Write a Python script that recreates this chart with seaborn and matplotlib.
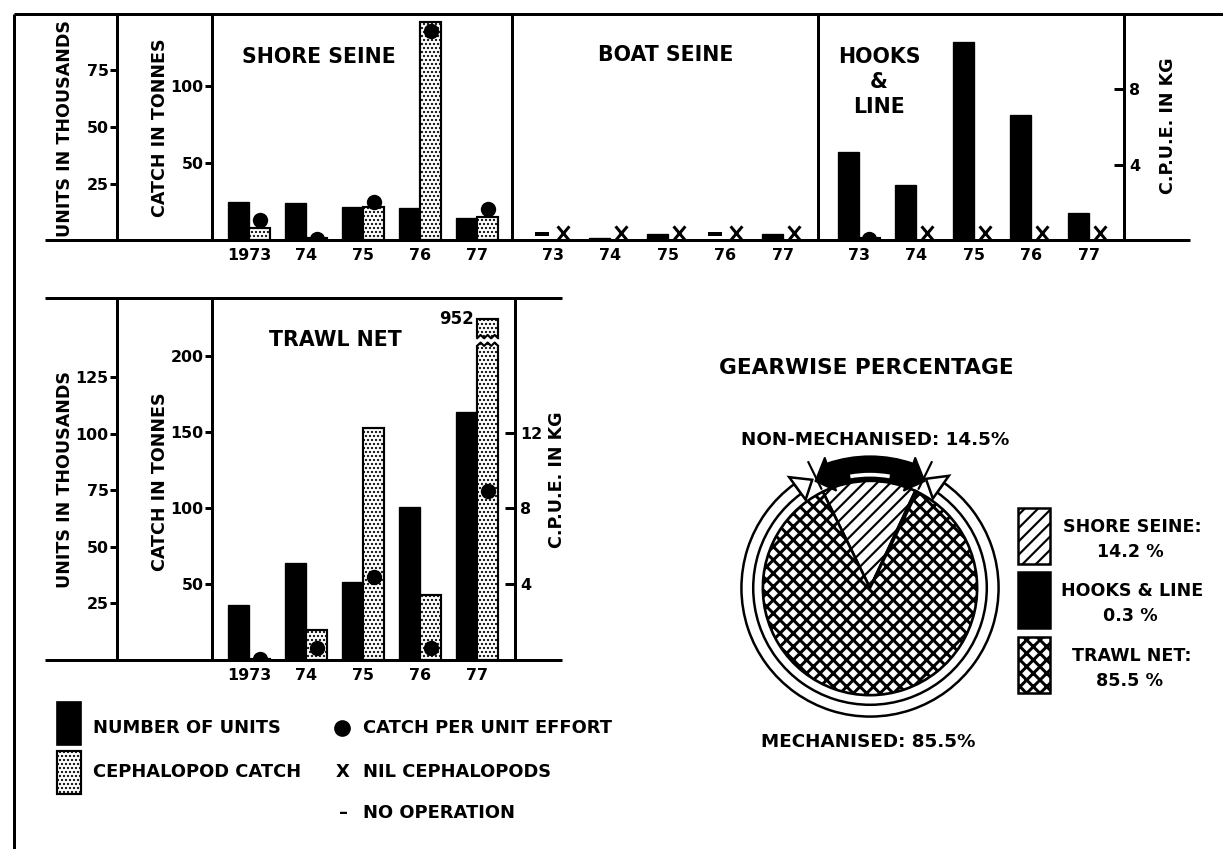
import numpy as np
import pandas as pd
import matplotlib
matplotlib.use("Agg")
import matplotlib.pyplot as plt
import seaborn as sns
from matplotlib.patches import Rectangle, Wedge, Polygon
from matplotlib.path import Path

# ---------------- data ----------------
years_long = ["1973", "74", "75", "76", "77"]
years_short = ["73", "74", "75", "76", "77"]

# units in thousands, catch in tonnes, CPUE in kg
shore_units = [16.8, 16.4, 14.6, 14.2, 9.7]
shore_catch = [7.8, 1.0, 21.4, 141.6, 15.0]
shore_cpue = [1.06, 0.05, 2.0, 11.1, 1.65]

boat_units = [np.nan, 0.9, 2.6, np.nan, 2.6]          # NaN = no operation
boat_catch = [np.nan, np.nan, np.nan, np.nan, np.nan]  # NaN = nil cephalopods
boat_cpue = [np.nan, np.nan, np.nan, np.nan, np.nan]

hooks_units = [38.9, 24.3, 87.6, 55.3, 12.0]
hooks_catch = [1.2, np.nan, np.nan, np.nan, np.nan]
hooks_cpue = [0.05, np.nan, np.nan, np.nan, np.nan]

trawl_units = [24.3, 42.9, 34.5, 67.7, 109.7]
trawl_catch = [0.5, 19.7, 152.6, 42.8, 952.0]
trawl_cpue = [0.05, 0.63, 4.4, 0.63, 8.9]

gear_names = ["SHORE SEINE", "HOOKS & LINE", "TRAWL NET"]
gear_pct = [14.2, 0.3, 85.5]
non_mech_pct = 14.5
mech_pct = 85.5

# ---------------- style ----------------
W, H, DPI = 1223, 849, 120
sns.set_style("white")
plt.rcParams.update({
    "font.family": ["DejaVu Sans"],
    "font.weight": "bold",
    "axes.edgecolor": "black",
    "text.color": "black",
    "xtick.color": "black",
    "ytick.color": "black",
    "axes.labelcolor": "black",
    "hatch.linewidth": 1.2,
    "hatch.color": "black",
})
LW = 1.8
TICK_FS = 9.5
TITLE_FS = 12.3
LAB_FS = 10.5
LEG_FS = 10.7
BAR_W = 0.37
STIPPLE = "....."
DIAG = "///"
CROSS = "xxx"
CAP = 224          # axis break for the trawl-net 1977 catch
BREAK_LO, BREAK_HI = 206.5, 211.5

X_MARK = Path([(-0.5, 0), (0.5, 1.2), (-0.5, 1.2), (0.5, 0)],
              [Path.MOVETO, Path.LINETO, Path.MOVETO, Path.LINETO])
DASH_MARK = Path([(-0.5, 0.45), (0.5, 0.45)], [Path.MOVETO, Path.LINETO])


def hlw(p, lw):
    if hasattr(p, "set_hatch_linewidth"):
        p.set_hatch_linewidth(lw)


def rect(x0, y0, w, h):
    return [x0 / W, 1 - (y0 + h) / H, w / W, h / H]


fig = plt.figure(figsize=(W / DPI, H / DPI), dpi=DPI)
fig.patch.set_facecolor("white")


def panel(x0, y0, w, h, lims, xlim):
    ax_u = fig.add_axes(rect(x0, y0, w, h))
    ax_c = ax_u.twinx()
    ax_p = ax_u.twinx()
    for ax, lim in zip((ax_u, ax_c, ax_p), lims):
        ax.set_ylim(0, lim)
        ax.set_facecolor("none")
        for sp in ax.spines.values():
            sp.set_visible(False)
            sp.set_linewidth(LW)
            sp.set_color("black")
        ax.tick_params(axis="y", which="both", left=False, right=False,
                       labelleft=False, labelright=False)
    ax_u.set_xlim(*xlim)
    return ax_u, ax_c, ax_p


def draw_series(axs, units, catch, cpue, labels, lims, xlim, cap=None):
    ax_u, ax_c, ax_p = axs
    idx = np.arange(len(units))
    off = BAR_W / 2
    u = np.asarray(units, float)
    c = np.asarray(catch, float)
    p = np.asarray(cpue, float)
    if np.isfinite(u).any():
        sns.barplot(x=idx - off, y=u, native_scale=True, width=BAR_W,
                    color="black", saturation=1, edgecolor="black",
                    linewidth=0.8, errorbar=None, ax=ax_u)
    disp = c if cap is None else np.minimum(c, cap)
    if np.isfinite(c).any():
        sns.barplot(x=idx + off, y=disp, native_scale=True, width=BAR_W,
                    color="white", saturation=1, edgecolor="black",
                    linewidth=1.3, hatch=STIPPLE, errorbar=None, ax=ax_c)
        for patch in ax_c.patches:
            hlw(patch, 0.9)
    if np.isfinite(p).any():
        sns.scatterplot(x=idx + off, y=p, color="black", s=85, linewidth=0,
                        legend=False, zorder=5, ax=ax_p)
    nil = ~np.isfinite(c)
    if nil.any():
        ax_c.plot(idx[nil] + off, np.zeros(nil.sum()), linestyle="none",
                  marker=X_MARK, markersize=17, markeredgewidth=1.8,
                  color="black", markerfacecolor="none", clip_on=False, zorder=6)
    noop = ~np.isfinite(u)
    if noop.any():
        ax_u.plot(idx[noop] - off, np.zeros(noop.sum()), linestyle="none",
                  marker=DASH_MARK, markersize=8, markeredgewidth=2.4,
                  color="black", markerfacecolor="none", clip_on=False, zorder=6)
    if cap is not None:
        for k in np.where(c > cap)[0]:
            xc = idx[k] + off
            n = 3
            xs = np.linspace(xc - BAR_W / 2, xc + BAR_W / 2, 2 * n + 1)
            amp = np.where(np.arange(2 * n + 1) % 2 == 0, 0.0, 2.2)
            lower = BREAK_LO + amp
            upper = BREAK_HI + amp
            xs_w = xs.copy()
            xs_w[0] -= 0.03
            xs_w[-1] += 0.03
            poly = np.vstack([np.column_stack([xs_w, lower]),
                              np.column_stack([xs_w[::-1], upper[::-1]])])
            ax_c.add_patch(Polygon(poly, closed=True, fc="white", ec="none", zorder=3))
            ax_c.plot(xs, lower, color="black", lw=1.3, zorder=4)
            ax_c.plot(xs, upper, color="black", lw=1.3, zorder=4)
            ax_c.text(xc - BAR_W / 2 - 0.06, cap, f"{c[k]:.0f}", ha="right",
                      va="center", fontsize=10, fontweight="bold")
    for ax, lim in zip(axs, lims):
        ax.set_ylim(0, lim)
        ax.set_xlabel("")
        ax.set_ylabel("")
    ax_c.xaxis.set_visible(False)
    ax_p.xaxis.set_visible(False)
    ax_u.set_xlim(*xlim)
    ax_u.set_xticks(idx, labels=labels)
    ax_u.tick_params(axis="x", bottom=True, labelbottom=True, length=0,
                     pad=5, labelsize=TICK_FS)


def y_left(ax, pos_frac, ticks):
    ax.spines["left"].set_visible(True)
    ax.spines["left"].set_position(("axes", pos_frac))
    ax.set_yticks(ticks, labels=[str(t) for t in ticks])
    ax.tick_params(axis="y", left=True, labelleft=True, right=False,
                   labelright=False, direction="out", length=4, width=LW,
                   pad=1, labelsize=TICK_FS)


def y_right(ax, ticks):
    ax.spines["right"].set_visible(True)
    ax.set_yticks(ticks, labels=[str(t) for t in ticks])
    ax.tick_params(axis="y", right=True, labelright=True, left=False,
                   labelleft=False, direction="in", length=6, width=LW,
                   pad=3, labelsize=TICK_FS)


TOP_LIMS = (100, 147, 12)
TRAWL_LIMS = (160, 238, 19.1)

# ---- top row ----
ax_shore = panel(212, 14, 300, 226, TOP_LIMS, (-0.65, 4.61))
draw_series(ax_shore, shore_units, shore_catch, shore_cpue, years_long,
            TOP_LIMS, (-0.65, 4.61))
y_left(ax_shore[0], (117 - 212) / 300, [25, 50, 75])
y_left(ax_shore[1], 0, [50, 100])

ax_boat = panel(512, 14, 306, 226, TOP_LIMS, (-0.71, 4.61))
draw_series(ax_boat, boat_units, boat_catch, boat_cpue, years_short,
            TOP_LIMS, (-0.71, 4.61))
ax_boat[0].spines["left"].set_visible(True)

ax_hooks = panel(818, 14, 306, 226, TOP_LIMS, (-0.71, 4.61))
draw_series(ax_hooks, hooks_units, hooks_catch, hooks_cpue, years_short,
            TOP_LIMS, (-0.71, 4.61))
ax_hooks[0].spines["left"].set_visible(True)
y_right(ax_hooks[2], [4, 8])

# ---- trawl net ----
ax_trawl = panel(212, 298, 303, 362, TRAWL_LIMS, (-0.65, 4.665))
draw_series(ax_trawl, trawl_units, trawl_catch, trawl_cpue, years_long,
            TRAWL_LIMS, (-0.65, 4.665), cap=CAP)
y_left(ax_trawl[0], (117 - 212) / 303, [25, 50, 75, 100, 125])
y_left(ax_trawl[1], 0, [50, 100, 150, 200])
y_right(ax_trawl[2], [4, 8, 12])

# ---- pie ----
axp = fig.add_axes(rect(720, 438, 300, 300))
start = 90 + 1.8 * non_mech_pct
end = start - 3.6 * non_mech_pct
wedges, _ = axp.pie(gear_pct, startangle=90 + 1.8 * (gear_pct[0] + gear_pct[1]),
                    counterclock=False, colors=["white", "black", "white"],
                    hatch=[DIAG, "", CROSS], radius=1.0,
                    wedgeprops=dict(edgecolor="black", linewidth=1.6))
hlw(wedges[0], 1.3)
hlw(wedges[2], 1.8)


def pol(th, r):
    t = np.deg2rad(th)
    return (r * np.cos(t), r * np.sin(t))


ra, rb = start + 10, end - 9
axp.add_patch(Wedge((0, 0), 1.20, ra, rb + 360, width=0.11, fc="white",
                    ec="black", lw=1.5, zorder=2))
axp.add_patch(Polygon([pol(ra, 1.02), pol(ra, 1.28), pol(ra - 8, 1.145)],
                      closed=True, fc="white", ec="black", lw=1.5, zorder=3))
axp.add_patch(Polygon([pol(rb, 1.02), pol(rb, 1.28), pol(rb + 8, 1.145)],
                      closed=True, fc="white", ec="black", lw=1.5, zorder=3))
# black double arrow for the non-mechanised share
axp.add_patch(Wedge((0, 0), 1.23, end + 7, start - 7, width=0.23, fc="black",
                    ec="black", lw=1, zorder=3))
axp.add_patch(Polygon([pol(start - 7, 0.96), pol(start - 7, 1.29), pol(start + 1, 1.12)],
                      closed=True, fc="black", ec="black", lw=1, zorder=3))
axp.add_patch(Polygon([pol(end + 7, 0.96), pol(end + 7, 1.29), pol(end - 1, 1.12)],
                      closed=True, fc="black", ec="black", lw=1, zorder=3))
axp.add_patch(Wedge((0, 0), 1.075, 80, 100, width=0.035, fc="white", ec="none", zorder=4))
for th in (start, end):
    p0, p1 = pol(th, 1.03), pol(th, 1.31)
    axp.plot([p0[0], p1[0]], [p0[1], p1[1]], color="black", lw=1.3, zorder=4)
axp.set_xlim(-1.4, 1.4)
axp.set_ylim(-1.4, 1.4)
axp.set_aspect("equal")
axp.axis("off")

# ---- overlay for frame lines, titles, legends ----
ov = fig.add_axes([0, 0, 1, 1])
ov.set_xlim(0, W)
ov.set_ylim(H, 0)
ov.axis("off")


def hline(x0, x1, y):
    ov.plot([x0, x1], [y, y], color="black", lw=LW, solid_capstyle="butt")


def vline(x, y0, y1):
    ov.plot([x, x], [y0, y1], color="black", lw=LW, solid_capstyle="butt")


hline(14, 1223, 14)
vline(14, 14, 849)
hline(45, 1190, 240)
hline(45, 562, 298)
hline(45, 562, 660)

tk = dict(ha="center", va="center", fontweight="bold")
ov.text(319, 57, "SHORE SEINE", fontsize=TITLE_FS, **tk)
ov.text(666, 55, "BOAT SEINE", fontsize=TITLE_FS, **tk)
ov.text(879, 82, "HOOKS\n&\nLINE", fontsize=TITLE_FS, linespacing=1.3, **tk)
ov.text(335, 340, "TRAWL NET", fontsize=TITLE_FS, **tk)

ov.text(65, 128, "UNITS IN THOUSANDS", fontsize=LAB_FS, rotation=90, **tk)
ov.text(160, 128, "CATCH IN TONNES", fontsize=LAB_FS, rotation=90, **tk)
ov.text(1168, 126, "C.P.U.E. IN KG", fontsize=LAB_FS, rotation=90, **tk)
ov.text(65, 480, "UNITS IN THOUSANDS", fontsize=LAB_FS, rotation=90, **tk)
ov.text(160, 482, "CATCH IN TONNES", fontsize=LAB_FS, rotation=90, **tk)
ov.text(557, 480, "C.P.U.E. IN KG", fontsize=LAB_FS, rotation=90, **tk)

ov.text(866, 368, "GEARWISE PERCENTAGE", fontsize=13, **tk)
ov.text(875, 440, f"NON-MECHANISED: {non_mech_pct}%", fontsize=11, **tk)
ov.text(868, 742, f"MECHANISED: {mech_pct}%", fontsize=11, **tk)

# pie legend
box_tops = [508, 572, 637]
box_fc = ["white", "black", "white"]
box_hatch = [DIAG, "", CROSS]
for top, fc, hh, name, pct in zip(box_tops, box_fc, box_hatch, gear_names, gear_pct):
    r_ = Rectangle((1018, top), 32, 56, fc=fc, ec="black", lw=1.5, hatch=hh)
    hlw(r_, 1.8 if hh == CROSS else 1.3)
    ov.add_patch(r_)
    suffix = ":" if name != "HOOKS & LINE" else ""
    ov.text(1132, top + 19, name + suffix, fontsize=10.5, **tk)
    ov.text(1130, top + 44, f"{pct} %", fontsize=10.5, **tk)

# bar legend
ov.add_patch(Rectangle((57, 702), 24, 43, fc="black", ec="black", lw=1))
st = Rectangle((57, 751), 24, 43, fc="white", ec="black", lw=1.3, hatch=STIPPLE)
hlw(st, 0.9)
ov.add_patch(st)
lk = dict(ha="left", va="center", fontsize=LEG_FS, fontweight="bold")
ov.text(93, 728, "NUMBER OF UNITS", **lk)
ov.text(93, 772, "CEPHALOPOD CATCH", **lk)
ov.plot([342], [728], "o", color="black", markersize=9)
ov.text(363, 728, "CATCH PER UNIT EFFORT", **lk)
ov.text(343, 772, "X", ha="center", va="center", fontsize=LEG_FS)
ov.text(363, 772, "NIL CEPHALOPODS", **lk)
ov.text(343, 813, "–", ha="center", va="center", fontsize=LEG_FS)
ov.text(363, 813, "NO OPERATION", **lk)

fig.savefig("out.png", dpi=DPI, facecolor="white")
